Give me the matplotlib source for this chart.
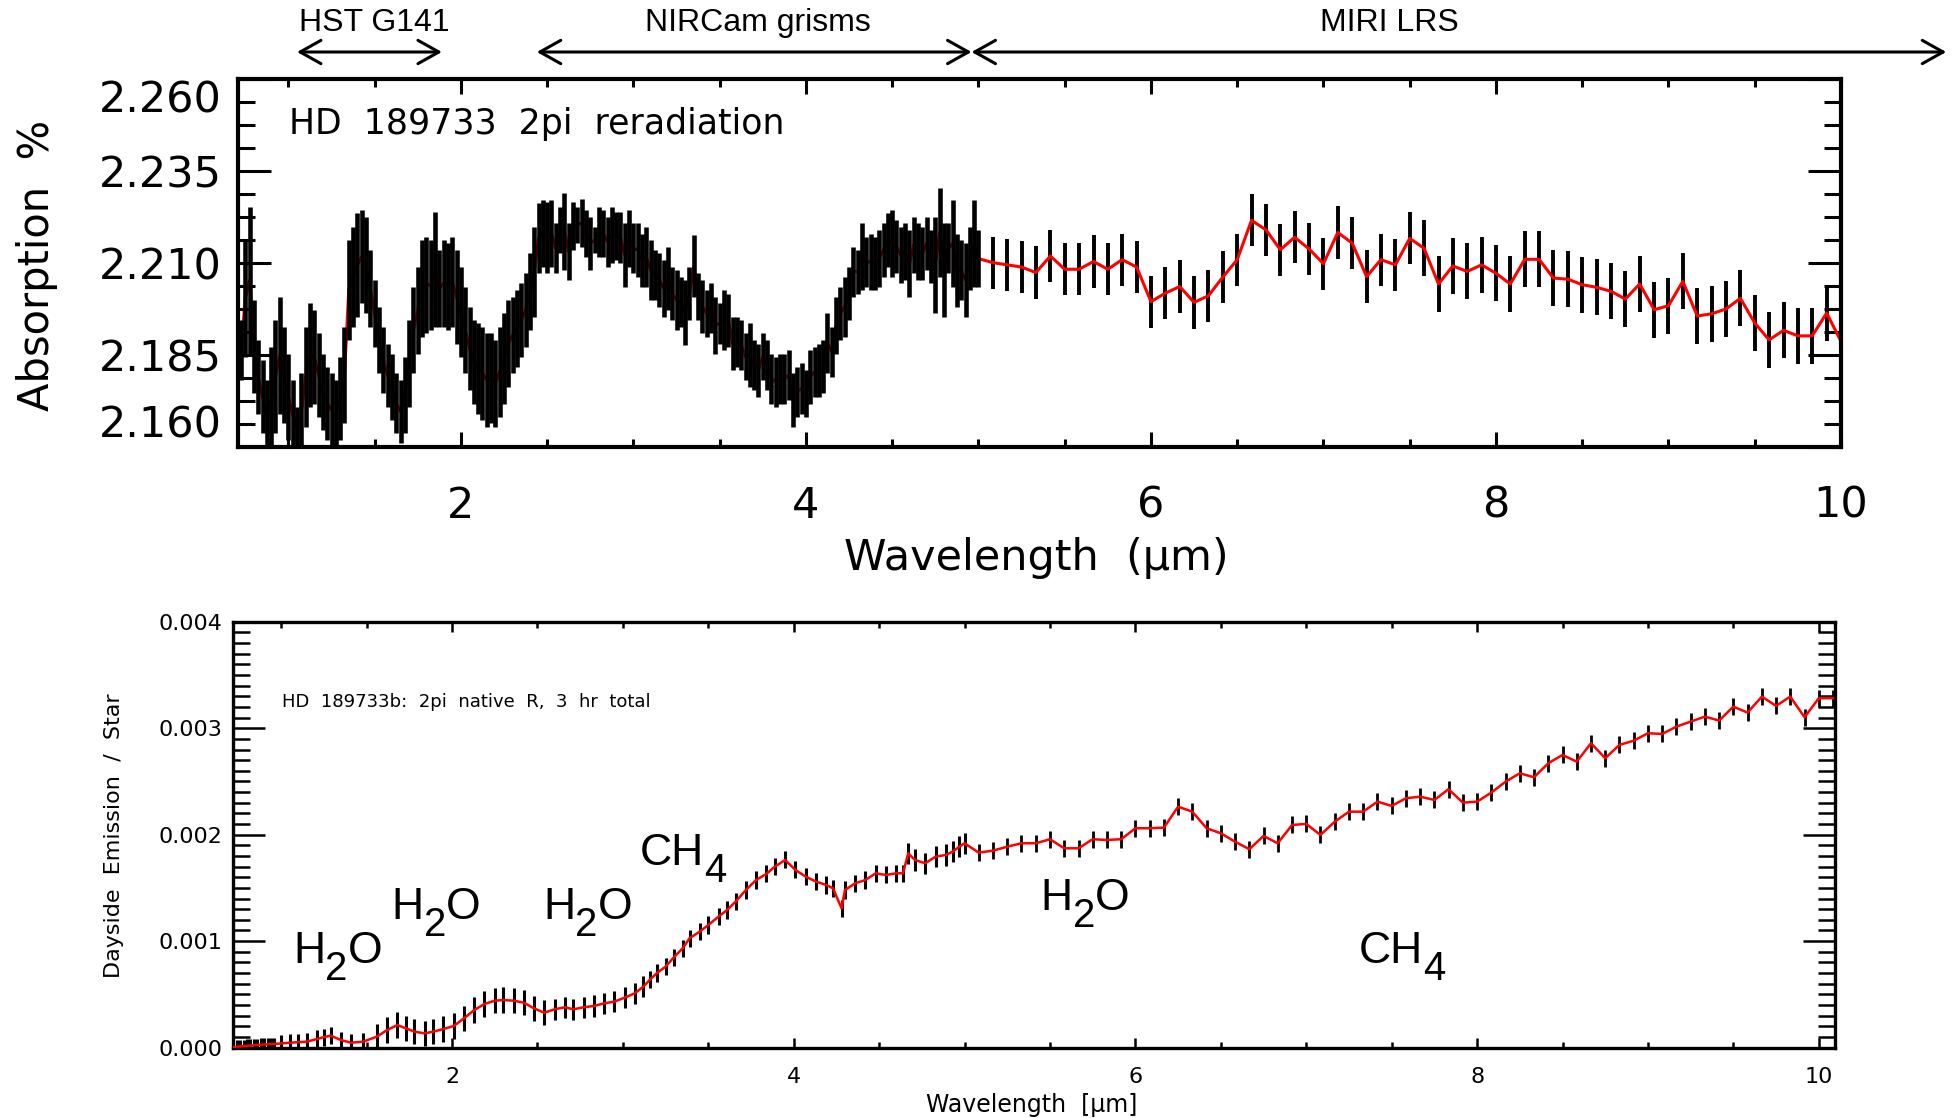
import numpy as np
import matplotlib
matplotlib.use("Agg")
import matplotlib.pyplot as plt
from matplotlib.ticker import MultipleLocator, FormatStrFormatter, FixedLocator

# ======================= DATA =======================
# --- Top panel: dense near-IR region (HST / NIRCam), upper & lower ends of error bars
top_nir_wl = np.round(np.arange(0.700, 5.0001, 0.025), 3)
top_nir_hi = [
    2.1927, 2.1945, 2.2162, 2.2253, 2.1999, 2.1891, 2.1836, 2.1782, 2.1872, 2.1945,
    2.2008, 2.1927, 2.1854, 2.1782, 2.1709, 2.1800, 2.1927, 2.1990, 2.1972, 2.1909,
    2.1854, 2.1818, 2.1800, 2.1782, 2.1845, 2.1927, 2.2162, 2.2198, 2.2235, 2.2244,
    2.2226, 2.2135, 2.2054, 2.1981, 2.1927, 2.1881, 2.1854, 2.1800, 2.1782, 2.1845,
    2.1945, 2.2035, 2.2090, 2.2162, 2.2171, 2.2162, 2.2239, 2.2135, 2.2162, 2.2153,
    2.2171, 2.2135, 2.2090, 2.2035, 2.1981, 2.1945, 2.1936, 2.1927, 2.1909, 2.1909,
    2.1891, 2.1927, 2.1963, 2.1999, 2.2008, 2.2026, 2.2045, 2.2072, 2.2126, 2.2198,
    2.2262, 2.2271, 2.2266, 2.2271, 2.2208, 2.2253, 2.2289, 2.2208, 2.2266, 2.2253,
    2.2275, 2.2244, 2.2226, 2.2198, 2.2253, 2.2244, 2.2226, 2.2253, 2.2239, 2.2239,
    2.2208, 2.2244, 2.2208, 2.2208, 2.2180, 2.2198, 2.2162, 2.2135, 2.2126, 2.2108,
    2.2144, 2.2090, 2.2081, 2.2063, 2.2054, 2.2090, 2.2176, 2.2072, 2.2054, 2.2026,
    2.2045, 2.2008, 2.1990, 2.2026, 2.2017, 2.1954, 2.1954, 2.1945, 2.1909, 2.1936,
    2.1891, 2.1881, 2.1909, 2.1891, 2.1854, 2.1845, 2.1854, 2.1854, 2.1863, 2.1800,
    2.1818, 2.1827, 2.1809, 2.1863, 2.1872, 2.1881, 2.1891, 2.1963, 2.1927, 2.2008,
    2.2035, 2.2063, 2.2090, 2.2144, 2.2135, 2.2208, 2.2171, 2.2180, 2.2171, 2.2189,
    2.2208, 2.2235, 2.2244, 2.2217, 2.2198, 2.2208, 2.2189, 2.2226, 2.2208, 2.2198,
    2.2226, 2.2189, 2.2226, 2.2303, 2.2208, 2.2208, 2.2271, 2.2180, 2.2162, 2.2153,
    2.2198, 2.2271, 2.2189,
]
top_nir_lo = [
    2.1746, 2.1782, 2.1845, 2.1854, 2.1746, 2.1691, 2.1637, 2.1592, 2.1592, 2.1637,
    2.1691, 2.1664, 2.1619, 2.1592, 2.1592, 2.1592, 2.1655, 2.1709, 2.1718, 2.1682,
    2.1646, 2.1619, 2.1601, 2.1592, 2.1619, 2.1664, 2.1891, 2.1927, 2.1954, 2.1990,
    2.1963, 2.1927, 2.1872, 2.1800, 2.1746, 2.1709, 2.1673, 2.1637, 2.1610, 2.1637,
    2.1709, 2.1800, 2.1854, 2.1900, 2.1909, 2.1918, 2.1927, 2.1927, 2.1927, 2.1918,
    2.1927, 2.1881, 2.1845, 2.1800, 2.1755, 2.1718, 2.1691, 2.1673, 2.1655, 2.1664,
    2.1655, 2.1682, 2.1718, 2.1764, 2.1800, 2.1818, 2.1845, 2.1872, 2.1918, 2.1954,
    2.2072, 2.2090, 2.2072, 2.2090, 2.2072, 2.2126, 2.2081, 2.2054, 2.2135, 2.2153,
    2.2144, 2.2117, 2.2081, 2.2126, 2.2117, 2.2117, 2.2090, 2.2099, 2.2108, 2.2099,
    2.2035, 2.2090, 2.2072, 2.2063, 2.2035, 2.2035, 2.1999, 2.1999, 2.1981, 2.1954,
    2.1972, 2.1945, 2.1918, 2.1927, 2.1877, 2.1945, 2.2008, 2.1945, 2.1909, 2.1900,
    2.1909, 2.1854, 2.1881, 2.1863, 2.1872, 2.1809, 2.1818, 2.1809, 2.1782, 2.1764,
    2.1755, 2.1737, 2.1782, 2.1755, 2.1718, 2.1709, 2.1718, 2.1718, 2.1728, 2.1655,
    2.1682, 2.1691, 2.1682, 2.1718, 2.1737, 2.1737, 2.1746, 2.1800, 2.1791, 2.1854,
    2.1891, 2.1900, 2.1945, 2.2008, 2.2017, 2.2026, 2.2035, 2.2026, 2.2026, 2.2035,
    2.2063, 2.2090, 2.2063, 2.2072, 2.2045, 2.2054, 2.2008, 2.2072, 2.2054, 2.2054,
    2.2081, 2.2045, 2.1963, 2.2063, 2.1954, 2.2072, 2.2035, 2.1981, 2.1999, 2.1954,
    2.2026, 2.2035, 2.2035,
]

# --- Top panel: MIRI LRS bins (5.083 ... 10.0 um, 1/12 um bins)
top_miri_wl = np.round(5.0 + np.arange(1, 61) / 12.0, 3)
top_miri_val = [
    2.2101, 2.2095, 2.2089, 2.2074, 2.2119, 2.2083, 2.2083, 2.2104, 2.2083, 2.2109,
    2.2089, 2.1995, 2.2018, 2.2036, 2.1993, 2.2011, 2.2062, 2.2109, 2.2216, 2.2190,
    2.2136, 2.2170, 2.2138, 2.2098, 2.2183, 2.2154, 2.2063, 2.2109, 2.2095, 2.2167,
    2.2140, 2.2043, 2.2092, 2.2077, 2.2095, 2.2072, 2.2043, 2.2110, 2.2110, 2.2059,
    2.2056, 2.2041, 2.2034, 2.2023, 2.2002, 2.2043, 2.1973, 2.1984, 2.2050, 2.1956,
    2.1962, 2.1975, 2.2004, 2.1937, 2.1891, 2.1917, 2.1902, 2.1902, 2.1964, 2.1887,
]
top_miri_err = [0.0071] * 30 + [0.0076] * 30
top_yticks = [2.160, 2.185, 2.210, 2.235, 2.260]

# --- Bottom panel: near-IR region (model points with error bars)
bot_nir_wl = [
    0.70, 0.72, 0.74, 0.76, 0.78, 0.80, 0.82, 0.84, 0.86, 0.88, 0.90, 0.92, 0.94,
    0.96, 1.00, 1.05, 1.10, 1.15, 1.21, 1.25, 1.29, 1.35, 1.41, 1.48, 1.56, 1.62,
    1.68, 1.73, 1.78, 1.84, 1.89, 1.95, 2.01, 2.07, 2.13, 2.19, 2.25, 2.30, 2.36,
    2.42, 2.48, 2.54, 2.60, 2.66, 2.71, 2.77, 2.83, 2.89, 2.95, 3.01, 3.07, 3.12,
    3.16, 3.20, 3.25, 3.30, 3.35, 3.39, 3.45, 3.50, 3.56, 3.61, 3.66, 3.72, 3.78,
    3.84, 3.89, 3.95, 4.01, 4.07, 4.13, 4.19, 4.23, 4.28, 4.30, 4.36, 4.42, 4.48,
    4.54, 4.60, 4.64, 4.67, 4.71, 4.77, 4.83, 4.89, 4.93, 4.97, 5.00,
]
bot_nir_val = [
    0.000000, 0.000004, 0.000008, 0.000010, 0.000013, 0.000016, 0.000018, 0.000021,
    0.000024, 0.000026, 0.000028, 0.000030, 0.000032, 0.000033, 0.000038, 0.000045,
    0.000050, 0.000055, 0.000080, 0.000098, 0.000111, 0.000070, 0.000045, 0.000055,
    0.000102, 0.000164, 0.000211, 0.000180, 0.000149, 0.000133, 0.000149, 0.000174,
    0.000202, 0.000274, 0.000352, 0.000409, 0.000440, 0.000446, 0.000440, 0.000421,
    0.000368, 0.000327, 0.000359, 0.000378, 0.000359, 0.000378, 0.000390, 0.000415,
    0.000431, 0.000468, 0.000509, 0.000572, 0.000640, 0.000700, 0.000760, 0.000850,
    0.000932, 0.001026, 0.001089, 0.001151, 0.001230, 0.001292, 0.001371, 0.001480,
    0.001574, 0.001631, 0.001700, 0.001762, 0.001668, 0.001606, 0.001559, 0.001527,
    0.001496, 0.001308, 0.001480, 0.001543, 0.001574, 0.001637, 0.001621, 0.001637,
    0.001637, 0.001825, 0.001762, 0.001731, 0.001793, 0.001809, 0.001840, 0.001887,
    0.001919,
]
bot_nir_err = (
    [0.00006] * 14 + [0.00008] * 10 + [0.00012] * 18 + [0.00010] * 10
    + [0.00008] * 29 + [0.00010] * 8
)

# --- Bottom panel: MIRI LRS bins (5.083 ... 10.083 um)
bot_miri_wl = np.round(5.0 + np.arange(1, 62) / 12.0, 3)
bot_miri_val = [
    0.001831, 0.001850, 0.001887, 0.001919, 0.001919, 0.001957, 0.001872, 0.001872,
    0.001957, 0.001950, 0.001957, 0.002060, 0.002060, 0.002066, 0.002263, 0.002216,
    0.002060, 0.002013, 0.001934, 0.001863, 0.001988, 0.001919, 0.002091, 0.002101,
    0.001997, 0.002122, 0.002216, 0.002216, 0.002310, 0.002270, 0.002342, 0.002357,
    0.002326, 0.002427, 0.002301, 0.002310, 0.002395, 0.002498, 0.002577, 0.002539,
    0.002671, 0.002749, 0.002686, 0.002859, 0.002718, 0.002843, 0.002883, 0.002953,
    0.002946, 0.003015, 0.003062, 0.003109, 0.003072, 0.003203, 0.003147, 0.003297,
    0.003210, 0.003297, 0.003103, 0.003282, 0.003282,
]
bot_miri_err = [0.00008] * 61

# --- Labels / annotations
instrument_names = ["HST G141", "NIRCam grisms", "MIRI LRS"]
instrument_ranges = [(1.05, 1.89), (2.44, 4.96), (4.96, 10.61)]
instrument_label_x = [1.50, 3.72, 7.38]

molecule_labels = [
    # (x, baseline y, [(text, is_subscript), ...])
    (1.07, 0.000794, [("H", False), ("2", True), ("O", False)]),
    (1.645, 0.001205, [("H", False), ("2", True), ("O", False)]),
    (2.533, 0.001205, [("H", False), ("2", True), ("O", False)]),
    (3.10, 0.001715, [("CH", False), ("4", True)]),
    (5.445, 0.001292, [("H", False), ("2", True), ("O", False)]),
    (7.31, 0.000791, [("CH", False), ("4", True)]),
]

assert len(top_nir_hi) == len(top_nir_wl) == len(top_nir_lo)
assert len(top_miri_val) == len(top_miri_wl)
assert len(bot_nir_val) == len(bot_nir_wl) == len(bot_nir_err)
assert len(bot_miri_val) == len(bot_miri_wl)

# ======================= FIGURE =======================
W, H = 1960, 1118
fig = plt.figure(figsize=(W / 100, H / 100), dpi=100)
fig.patch.set_facecolor("white")

IDL = "DejaVu Sans"
ARIAL = "Liberation Sans"


def px_axes(left, top, right, bottom):
    return [left / W, 1 - bottom / H, (right - left) / W, (bottom - top) / H]


# ---------------- top panel ----------------
ax1 = fig.add_axes(px_axes(237.5, 79, 1841, 447))
hi = np.array(top_nir_hi)
lo = np.array(top_nir_lo)
mid = (hi + lo) / 2
wl_all = np.concatenate([top_nir_wl, top_miri_wl])
model_all = np.concatenate([mid, top_miri_val])
ax1.plot(wl_all, model_all, color="red", lw=2.2, zorder=2)
ax1.errorbar(top_nir_wl, mid, yerr=(hi - lo) / 2, fmt="none", ecolor="black",
             elinewidth=3.3, capsize=0, zorder=3)
ax1.errorbar(top_miri_wl, top_miri_val, yerr=top_miri_err, fmt="none",
             ecolor="black", elinewidth=2.8, capsize=0, zorder=1)

ax1.set_xlim(0.705, 10.0)
ax1.set_ylim(2.160, 2.260)
ax1.xaxis.set_major_locator(MultipleLocator(2))
ax1.xaxis.set_minor_locator(MultipleLocator(0.5))
ax1.yaxis.set_major_locator(FixedLocator(top_yticks))
ax1.yaxis.set_minor_locator(FixedLocator(np.linspace(top_yticks[0], top_yticks[-1], 17)))
ax1.yaxis.set_major_formatter(FormatStrFormatter("%.3f"))
ax1.tick_params(axis="both", which="both", direction="in", top=True, right=True,
                width=2.2, colors="black")
ax1.tick_params(axis="y", which="major", length=24, pad=11, labelsize=31)
ax1.tick_params(axis="y", which="minor", length=12)
ax1.tick_params(axis="x", which="major", length=11, pad=27, labelsize=31)
ax1.tick_params(axis="x", which="minor", length=6)
for lab in ax1.get_xticklabels() + ax1.get_yticklabels():
    lab.set_family(IDL)
for s in ax1.spines.values():
    s.set_linewidth(3.0)
ylabs = ax1.get_yticklabels()
ylabs[0].set_verticalalignment("bottom")
ylabs[-1].set_verticalalignment("top")

ax1.text(289 / W, 1 - 124 / H, "HD  189733  2pi  reradiation", transform=fig.transFigure,
         fontsize=25, family=IDL, ha="left", va="center")
fig.text(37 / W, 1 - 265 / H, "Absorption  %", rotation=90, fontsize=30, family=IDL,
         ha="center", va="center")
fig.text(1036 / W, 1 - 558 / H, "Wavelength  (\u03bcm)", fontsize=31, family=IDL,
         ha="center", va="center")

# instrument coverage arrows
for name, (a, b), lx in zip(instrument_names, instrument_ranges, instrument_label_x):
    ax1.annotate("", xy=(b, 1 - 52 / H), xytext=(a, 1 - 52 / H),
                 xycoords=("data", "figure fraction"),
                 textcoords=("data", "figure fraction"),
                 annotation_clip=False,
                 arrowprops=dict(arrowstyle="<->,head_length=0.75,head_width=0.42",
                                 mutation_scale=20, lw=2.2, color="black",
                                 shrinkA=0, shrinkB=0))
    ax1.annotate(name, xy=(lx, 1 - 23 / H), xycoords=("data", "figure fraction"),
                 annotation_clip=False, fontsize=23, family=ARIAL,
                 ha="center", va="center")

# ---------------- bottom panel ----------------
ax2 = fig.add_axes(px_axes(232.5, 621.8, 1835, 1047.5))
bwl = np.concatenate([bot_nir_wl, bot_miri_wl])
bval = np.concatenate([bot_nir_val, bot_miri_val])
ax2.errorbar(bot_nir_wl, bot_nir_val, yerr=bot_nir_err, fmt="none", ecolor="black",
             elinewidth=2.2, capsize=0, zorder=2)
ax2.errorbar(bot_miri_wl, bot_miri_val, yerr=bot_miri_err, fmt="none",
             ecolor="black", elinewidth=2.0, capsize=0, zorder=2)
ax2.plot(bwl, bval, color="red", lw=1.8, zorder=3)

ax2.set_xlim(0.715, 10.095)
ax2.set_ylim(0.0, 0.004)
ax2.xaxis.set_major_locator(MultipleLocator(2))
ax2.xaxis.set_minor_locator(MultipleLocator(0.5))
ax2.yaxis.set_major_locator(MultipleLocator(0.001))
ax2.yaxis.set_minor_locator(MultipleLocator(0.0001))
ax2.yaxis.set_major_formatter(FormatStrFormatter("%.3f"))
ax2.tick_params(axis="both", which="both", direction="in", top=True, right=True,
                width=1.8, colors="black")
ax2.tick_params(axis="y", which="major", length=23, pad=7, labelsize=16)
ax2.tick_params(axis="y", which="minor", length=12)
ax2.tick_params(axis="x", which="major", length=7, pad=14, labelsize=16)
ax2.tick_params(axis="x", which="minor", length=4)
for lab in ax2.get_xticklabels() + ax2.get_yticklabels():
    lab.set_family(IDL)
for s in ax2.spines.values():
    s.set_linewidth(2.4)

fig.text(282 / W, 1 - 702 / H, "HD  189733b:  2pi  native  R,  3  hr  total",
         fontsize=13, family=IDL, ha="left", va="center")
fig.text(114 / W, 1 - 836 / H, "Dayside  Emission  /  Star", rotation=90, fontsize=16,
         family=IDL, ha="center", va="center")
fig.text(1032 / W, 1 - 1105 / H, "Wavelength  [\u03bcm]", fontsize=17, family=IDL,
         ha="center", va="center")


def molecule(ax, x, y, parts, size=32, subsize=29, drop=5.5):
    base = ax.text(x, y, parts[0][0], fontsize=size, family=ARIAL, ha="left",
                   va="baseline", clip_on=False)
    prev = base
    for txt, sub in parts[1:]:
        if sub:
            t = ax.annotate(txt, xy=(1, 0), xycoords=(prev, base),
                            xytext=(0, -drop), textcoords="offset points",
                            fontsize=subsize, family=ARIAL, ha="left", va="baseline",
                            annotation_clip=False)
        else:
            t = ax.annotate(txt, xy=(1, 0), xycoords=(prev, base),
                            fontsize=size, family=ARIAL, ha="left", va="bottom",
                            annotation_clip=False)
        prev = t


for x, y, parts in molecule_labels:
    molecule(ax2, x, y, parts)

fig.savefig("out.png", dpi=100, facecolor="white")
